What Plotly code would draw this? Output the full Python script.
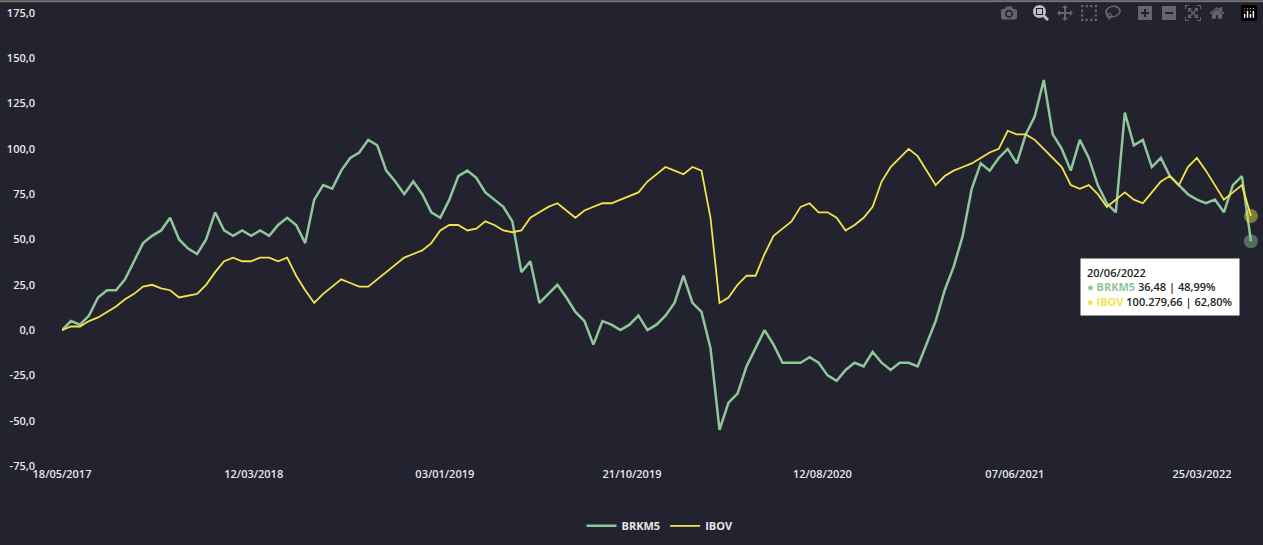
import pandas as pd
import plotly.graph_objects as go

brkm5 = [0,5,3,8,18,22,22,28,38,48,52,55,62,50,45,42,50,65,55,52,
         55,52,55,52,58,62,58,48,72,80,78,88,95,98,105,102,88,82,75,82,
         75,65,62,72,85,88,84,76,72,68,60,32,38,15,20,25,18,10,5,-8,
         5,3,0,3,8,0,3,8,15,30,15,10,-10,-55,-40,-35,-20,-10,0,-8,
         -18,-18,-18,-15,-18,-25,-28,-22,-18,-20,-12,-18,-22,-18,-18,-20,-8,5,22,35,
         52,78,92,88,95,100,92,108,118,138,108,100,88,105,95,80,70,65,120,102,
         105,90,95,85,80,75,72,70,72,65,80,85,49]
ibov = [0,2,2,5,7,10,13,17,20,24,25,23,22,18,19,20,25,32,38,40,
        38,38,40,40,38,40,30,22,15,20,24,28,26,24,24,28,32,36,40,42,
        44,48,55,58,58,55,56,60,58,55,54,55,62,65,68,70,66,62,66,68,
        70,70,72,74,76,82,86,90,88,86,90,88,62,15,18,25,30,30,42,52,
        56,60,68,70,65,65,62,55,58,62,68,82,90,95,100,96,88,80,85,88,
        90,92,95,98,100,110,108,108,105,100,95,90,80,78,80,75,68,72,76,72,
        70,76,82,85,80,90,95,88,80,72,76,80,63]
tick_dates = ["2017-05-18","2018-03-12","2019-01-03","2019-10-21","2020-08-12","2021-06-07","2022-03-25"]
tick_text = ["18/05/2017","12/03/2018","03/01/2019","21/10/2019","12/08/2020","07/06/2021","25/03/2022"]
y_ticks = [-75,-50,-25,0,25,50,75,100,125,150,175]
y_text = ["-75,0","-50,0","-25,0","0,0","25,0","50,0","75,0","100,0","125,0","150,0","175,0"]

d1 = pd.date_range("2017-05-18", periods=len(brkm5), freq="14D")
d2 = pd.date_range("2017-05-18", periods=len(ibov), freq="14D")
green = "#8fc79b"; yellow = "#f2e44b"

fig = go.Figure()
fig.add_trace(go.Scatter(x=d1, y=brkm5, name="BRKM5", mode="lines", line=dict(color=green, width=2.5)))
fig.add_trace(go.Scatter(x=d2, y=ibov, name="IBOV", mode="lines", line=dict(color=yellow, width=1.8)))
fig.add_trace(go.Scatter(x=[d1[-1]], y=[brkm5[-1]], mode="markers", showlegend=False,
                         marker=dict(size=14, color="rgba(143,199,155,0.45)")))
fig.add_trace(go.Scatter(x=[d2[-1]], y=[ibov[-1]], mode="markers", showlegend=False,
                         marker=dict(size=14, color="rgba(242,228,75,0.45)")))

fig.add_annotation(x=1, xref="paper", y=40, yref="y", xanchor="right", yanchor="top",
                   text=("20/06/2022<br><span style='color:%s'>●</span> <b><span style='color:%s'>BRKM5</span></b> 36,48 | 48,99%%"
                         "<br><span style='color:%s'>●</span> <b><span style='color:%s'>IBOV</span></b> 100.279,66 | 62,80%%") % (green, green, yellow, yellow),
                   showarrow=False, align="left", bgcolor="white", borderpad=6,
                   font=dict(family="Open Sans", size=11, color="#222"), xshift=-18)

fig.update_layout(
    width=1263, height=545, paper_bgcolor="#23232f", plot_bgcolor="#23232f",
    margin=dict(l=62, r=5, t=13, b=68),
    font=dict(family="Open Sans", color="#e8e8e8", size=11, weight=600),
    showlegend=True,
    legend=dict(orientation="h", x=0.5, xanchor="center", y=-0.1, yanchor="top",
                font=dict(size=11, color="#e8e8e8", family="Open Sans", weight=700)),
    xaxis=dict(range=["2017-05-18", "2022-06-20"], tickvals=tick_dates, ticktext=tick_text,
               showgrid=False, zeroline=False, showline=False, tickfont=dict(size=11)),
    yaxis=dict(range=[-75, 175], tickvals=y_ticks, ticktext=y_text, showgrid=False, zeroline=False,
               ticklabelstandoff=26, tickfont=dict(size=11)),
    shapes=[dict(type="line", xref="paper", yref="paper", x0=-0.06, x1=1.01, y0=1.026, y1=1.026,
                 line=dict(color="#777", width=2))],
)
fig.write_html("out.html", post_script="document.body.style.margin='0';document.body.style.overflow='hidden';")
